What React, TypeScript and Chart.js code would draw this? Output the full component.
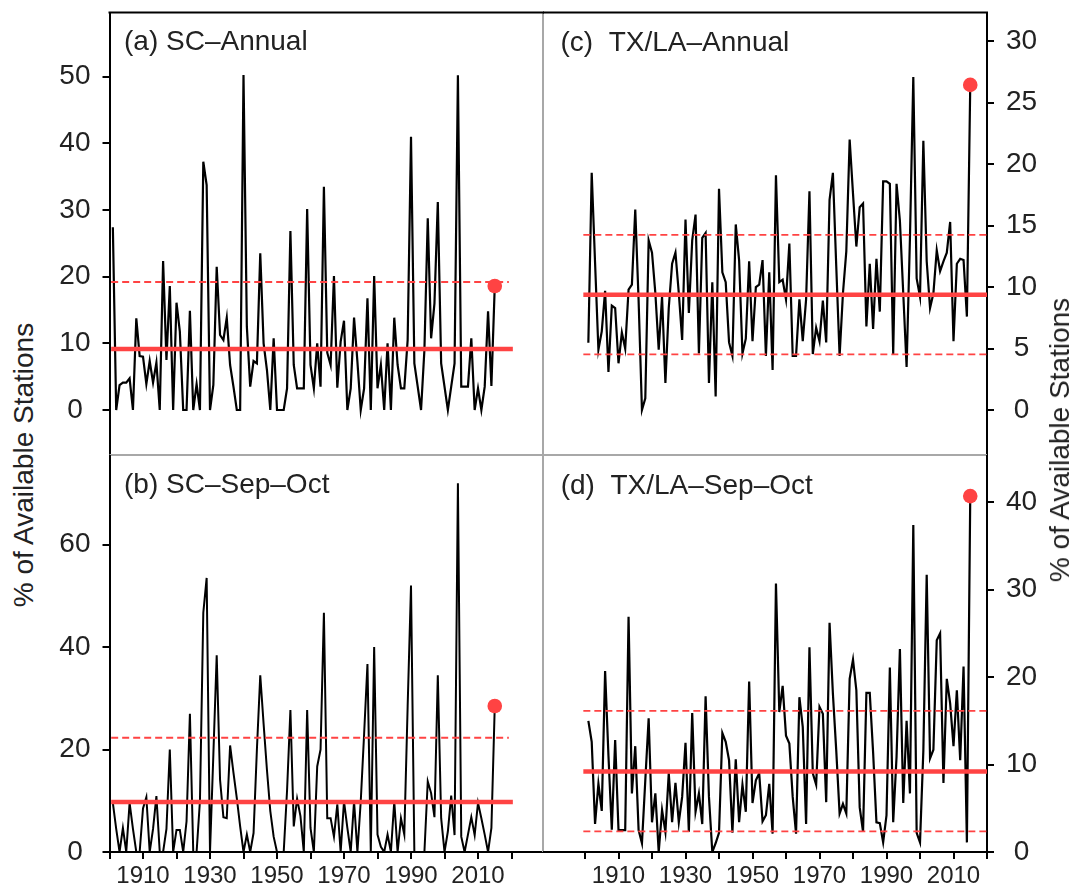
import React, { useEffect, useRef } from "react";
import { Chart, registerables } from "chart.js";

Chart.register(...registerables);

const FONT = '"Liberation Sans", Arial, Helvetica, sans-serif';
const TEXT = "#222222";
const RED = "#ff4343";
const GRAY = "#a8a8a8";

// ---------- data ----------
const startYear = 1901;

const scAnnual = [
  27.4, 0, 3.75, 4.1, 4.1, 4.75, 0, 13.75, 8.1, 8.0,
  3.9, 7.35, 4.1, 7.1, 0, 22.35, 7.5, 18.6, 0, 16.1,
  11.75, 0, 0, 14.9, 0, 3.9, 0, 37.25, 33.75, 0,
  3.75, 21.5, 11.25, 10.5, 13.85, 6.75, 3.5, 0, 0, 50.25,
  12.5, 3.5, 7.35, 7.0, 23.5, 10.0, 6, 0, 10.75, 0,
  0, 0, 3.25, 26.85, 6.75, 3.25, 3.25, 3.25, 30.15, 6.75,
  3.25, 10, 3.5, 33.5, 8.6, 6.75, 20.1, 3.35, 10.25, 13.4,
  0, 3.25, 13.85, 7.25, 0, 3.25, 16.75, 0, 20.1, 3.25,
  6.75, 0, 10, 0, 13.85, 6.75, 3.25, 3.25, 10.5, 41,
  7, 3.5, 0, 9, 28.75, 10.75, 16, 31.2, 7, 3.5,
  0, 3.5, 7, 50.2, 3.5, 3.5, 3.5, 10.75, 0, 3.25,
  0, 3.5, 14.8, 3.6, 18.6,
];

const scSepOct = [
  9.6, 4.5, 0, 4.7, 0, 9.6, 4.5, 0, 0, 8.5,
  10.7, 0, 4.5, 10.9, 0, 0, 4.5, 20, 0, 4.3,
  4.3, 0, 6, 27, 0, 0, 10, 46.7, 53.5, 0,
  19, 38.4, 14.1, 6.8, 6.6, 20.8, 15.5, 10.5, 5, 0,
  3.4, 0, 3.7, 20, 34.5, 25, 16, 8, 3, 0,
  0, 0, 12, 27.7, 5, 10.4, 7, 0, 27.7, 4.7,
  0, 16.7, 20, 46.7, 6.6, 6.6, 3, 9.3, 0, 9.9,
  4.7, 0, 9.9, 0, 9.9, 23, 36.7, 0, 40, 3.4,
  1, 0, 3.4, 0, 9.9, 0, 6.6, 3.4, 28.5, 52,
  0, 0, 0, 0, 13.8, 11.5, 6.8, 34.5, 6.6, 0,
  4, 11, 3.3, 72, 3, 0, 3.4, 6.8, 3.3, 9.6,
  6.6, 3.4, 0, 4.7, 28.5,
];

const txAnnual = [
  5.47, 19.3, 12, 4.9, 6.4, 9.7, 3.1, 8.5, 8.3, 3.8,
  6.3, 5.0, 9.8, 10.2, 16.3, 8.9, 0, 0.95, 13.8, 12.8,
  9.5, 4.9, 9.2, 2.2, 8.3, 11.9, 12.8, 9.5, 5.7, 15.5,
  7.9, 13.8, 15.9, 4.6, 14, 14.4, 2.2, 10.4, 1.1, 18,
  11.2, 10.4, 5.5, 4.4, 15.1, 12.2, 4.6, 5.8, 12.1, 5.6,
  10, 10.2, 12.2, 4.4, 11.2, 3.25, 19.1, 10.4, 10.6, 9,
  13.55, 4.4, 4.4, 9, 5.6, 9, 17.8, 4.55, 6.7, 5.6,
  8.9, 5.5, 17.1, 19.3, 11.7, 4.4, 9.5, 12.9, 22, 17.6,
  13.3, 16.5, 16.8, 6.8, 11.9, 6.6, 12.3, 8, 18.6, 18.6,
  18.4, 4.55, 18.4, 15.4, 9.5, 3.5, 14, 27.1, 10.7, 9.2,
  21.9, 12.1, 8.3, 9.5, 13, 11.3, 12.1, 12.8, 15.3, 5.6,
  11.9, 12.3, 12.2, 7.6, 26.45,
];

const txSepOct = [
  15, 12.6, 3.2, 7.8, 4.7, 20.7, 11, 2.55, 12.8, 2.5,
  2.5, 2.5, 26.9, 6.7, 12.1, 2.5, 1, 8.2, 15.3, 3.4,
  6.7, 0, 4.8, 2.3, 9, 3.4, 7.9, 3.4, 6.3, 12.5,
  2.3, 15.9, 4.6, 6.7, 3.2, 17.8, 6.3, 0, 1, 2.2,
  13.6, 12.6, 10.5, 2.2, 10.6, 3.4, 7.7, 4.6, 19.5, 5.6,
  8.2, 9, 3.5, 4.2, 7.8, 2.1, 30.7, 16, 19, 13.3,
  12.4, 6.3, 2.1, 17.7, 14.3, 3.2, 23.4, 9, 7.7, 16.6,
  15.8, 5.7, 26.2, 18.1, 11.6, 4.4, 5.5, 4.4, 19.8, 22,
  18.5, 5.1, 2.3, 18.2, 18.2, 11.4, 3.4, 3.3, 1.1, 4.2,
  21.1, 3.4, 10.9, 23.2, 5.6, 15, 6.7, 37.4, 2.2, 1.1,
  11.6, 31.7, 10.7, 11.7, 24.2, 25, 7.9, 19.8, 17, 12.1,
  18.5, 10.5, 21.2, 1.1, 40.7,
];

// reference lines: [mean, upper, lower]
const scAnnualRef = [9.15, 19.2];
const scSepOctRef = [9.77, 22.3];
const txAnnualRef = [9.37, 14.25, 4.53];
const txSepOctRef = [9.22, 16.15, 2.37];

const xTickYears = [1900, 1910, 1920, 1930, 1940, 1950, 1960, 1970, 1980, 1990, 2000, 2010, 2020];
const xTickLabels = ["1910", "1930", "1950", "1970", "1990", "2010"];
const scAnnualTicks = [0, 10, 20, 30, 40, 50];
const scSepOctTicks = [0, 20, 40, 60];
const txAnnualTicks = [0, 5, 10, 15, 20, 25, 30];
const txSepOctTicks = [0, 10, 20, 30, 40];

const panelLabels = ["(a) SC–Annual", "(b) SC–Sep–Oct", "(c)  TX/LA–Annual", "(d)  TX/LA–Sep–Oct"];
const axisTitle = "% of Available Stations";

// ---------- plugins ----------
const framePlugin = {
  id: "frame",
  afterDatasetsDraw(chart: any, _args: any, opts: any) {
    const { ctx, chartArea: a } = chart;
    ctx.save();
    for (const e of opts.edges || []) {
      ctx.strokeStyle = e.color;
      ctx.lineWidth = e.width || 2;
      ctx.beginPath();
      if (e.side === "top") { ctx.moveTo(a.left - 1, a.top); ctx.lineTo(a.right + 1, a.top); }
      if (e.side === "bottom") { ctx.moveTo(a.left, a.bottom); ctx.lineTo(a.right, a.bottom); }
      if (e.side === "right") { ctx.moveTo(a.right, a.top); ctx.lineTo(a.right, e.full ? chart.height : a.bottom); }
      if (e.side === "left") { ctx.moveTo(a.left, a.top); ctx.lineTo(a.left, e.full ? chart.height : a.bottom); }
      ctx.stroke();
    }
    ctx.restore();
  },
};

const labelPlugin = {
  id: "panelLabel",
  afterDraw(chart: any, _args: any, opts: any) {
    const { ctx } = chart;
    ctx.save();
    ctx.font = `${opts.size}px ${FONT}`;
    ctx.fillStyle = TEXT;
    ctx.textBaseline = "alphabetic";
    ctx.textAlign = "left";
    ctx.fillText(opts.text, opts.x, opts.y);
    ctx.restore();
  },
};

type Spec = {
  left: number; top: number; width: number; height: number;
  values: number[]; ref: number[];
  yMin: number; yMax: number; yTicks: number[]; side: "left" | "right";
  xMin: number; xMax: number; showX: boolean;
  yWidth: number; xHeight: number;
  padding: { top: number; right: number; bottom: number; left: number };
  edges: any[];
  label: string; labelX: number; labelY: number;
  refFrom: number; refTo: number; dashTo: number;
  lineWidth: number;
};

function zeroPad(s: any) {
  s.paddingTop = 0; s.paddingBottom = 0; s.paddingLeft = 0; s.paddingRight = 0;
}

function buildConfig(sp: Spec): any {
  const years = sp.values.map((_, i) => startYear + i);
  const series = sp.values.map((v, i) => ({ x: years[i], y: v }));
  const last = series[series.length - 1];
  const datasets: any[] = [
    {
      type: "scatter", data: [last], pointRadius: 7.3, pointBackgroundColor: RED,
      pointBorderWidth: 0, order: 0, showLine: false,
    },
    {
      type: "line", data: [{ x: sp.refFrom, y: sp.ref[0] }, { x: sp.refTo, y: sp.ref[0] }],
      borderColor: RED, borderWidth: 4.5, pointRadius: 0, order: 1,
    },
  ];
  for (let k = 1; k < sp.ref.length; k++) {
    datasets.push({
      type: "line", data: [{ x: sp.refFrom, y: sp.ref[k] }, { x: sp.dashTo, y: sp.ref[k] }],
      borderColor: RED, borderWidth: 1.8, borderDash: [7, 4], pointRadius: 0, order: 2,
    });
  }
  datasets.push({
    type: "line", data: series, borderColor: "#000", borderWidth: sp.lineWidth,
    pointRadius: 0, tension: 0, order: 3, borderJoinStyle: "miter",
  });

  return {
    type: "line",
    data: { datasets },
    plugins: [framePlugin, labelPlugin],
    options: {
      animation: false,
      responsive: false,
      maintainAspectRatio: false,
      layout: { padding: sp.padding, autoPadding: false },
      plugins: {
        legend: { display: false },
        tooltip: { enabled: false },
        frame: { edges: sp.edges },
        panelLabel: { text: sp.label, x: sp.labelX, y: sp.labelY, size: 28 },
      },
      scales: {
        x: {
          type: "linear",
          min: sp.xMin,
          max: sp.xMax,
          display: sp.showX,
          position: "bottom",
          afterBuildTicks: (s: any) => { s.ticks = xTickYears.map((v) => ({ value: v })); },
          afterFit: (s: any) => { s.height = sp.xHeight; zeroPad(s); },
          ticks: {
            autoSkip: false, maxRotation: 0, minRotation: 0, padding: 3,
            color: TEXT, font: { family: FONT, size: 24 },
            callback: (v: any) => (xTickLabels.includes(String(v)) ? String(v) : ""),
          },
          grid: { display: true, drawOnChartArea: false, drawTicks: true, tickLength: 7, color: "#000", lineWidth: 2 },
          border: { display: true, color: "#000", width: 2 },
        },
        y: {
          type: "linear",
          position: sp.side,
          min: sp.yMin,
          max: sp.yMax,
          afterBuildTicks: (s: any) => { s.ticks = sp.yTicks.map((v) => ({ value: v })); },
          afterFit: (s: any) => { s.width = sp.yWidth; zeroPad(s); },
          ticks: {
            autoSkip: false, padding: 12, crossAlign: "center",
            color: TEXT, font: { family: FONT, size: 28 },
          },
          grid: { display: true, drawOnChartArea: false, drawTicks: true, tickLength: 7, color: "#000", lineWidth: 2 },
          border: { display: true, color: "#000", width: 2 },
        },
      },
    },
  };
}

function Panel({ spec }: { spec: Spec }) {
  const ref = useRef<HTMLCanvasElement>(null);
  useEffect(() => {
    const chart = new Chart(ref.current as HTMLCanvasElement, buildConfig(spec));
    return () => chart.destroy();
  }, []);
  return (
    <canvas
      ref={ref}
      width={spec.width}
      height={spec.height}
      style={{ position: "absolute", left: spec.left, top: spec.top, width: spec.width, height: spec.height }}
    />
  );
}

const leftXMax = 2029.4;
const rightXMin = 1887.46;

const specs: Spec[] = [
  {
    left: 40, top: 0, width: 504, height: 456,
    values: scAnnual, ref: scAnnualRef,
    yMin: -6.75, yMax: 59.63, yTicks: scAnnualTicks, side: "left",
    xMin: 1900, xMax: leftXMax, showX: false, yWidth: 69.5, xHeight: 0,
    padding: { top: 12.5, right: 1, bottom: 1, left: 0 },
    edges: [
      { side: "bottom", color: GRAY },
      { side: "right", color: GRAY, full: true },
      { side: "top", color: "#000" },
    ],
    label: panelLabels[0], labelX: 84, labelY: 50,
    refFrom: 1900.5, refTo: 2020.4, dashTo: 2019.2, lineWidth: 2.2,
  },
  {
    left: 40, top: 455, width: 504, height: 436,
    values: scSepOct, ref: scSepOctRef,
    yMin: 0, yMax: 77.5, yTicks: scSepOctTicks, side: "left",
    xMin: 1900, xMax: leftXMax, showX: true, yWidth: 69.5, xHeight: 39,
    padding: { top: 0, right: 1, bottom: 0, left: 0 },
    edges: [{ side: "right", color: GRAY }],
    label: panelLabels[1], labelX: 84, labelY: 38,
    refFrom: 1900.5, refTo: 2020.4, dashTo: 2019.2, lineWidth: 2,
  },
  {
    left: 543, top: 0, width: 502, height: 456,
    values: txAnnual, ref: txAnnualRef,
    yMin: -3.66, yMax: 32.34, yTicks: txAnnualTicks, side: "right",
    xMin: rightXMin, xMax: 2020, showX: false, yWidth: 58, xHeight: 0,
    padding: { top: 12.5, right: 0, bottom: 1, left: 0 },
    edges: [
      { side: "bottom", color: GRAY },
      { side: "top", color: "#000" },
    ],
    label: panelLabels[2], labelX: 17.5, labelY: 51,
    refFrom: 1899.5, refTo: 2020.3, dashTo: 2020.3, lineWidth: 2.2,
  },
  {
    left: 543, top: 455, width: 502, height: 436,
    values: txSepOct, ref: txSepOctRef,
    yMin: 0, yMax: 45.4, yTicks: txSepOctTicks, side: "right",
    xMin: rightXMin, xMax: 2020, showX: true, yWidth: 58, xHeight: 39,
    padding: { top: 0, right: 0, bottom: 0, left: 0 },
    edges: [],
    label: panelLabels[3], labelX: 17.7, labelY: 39,
    refFrom: 1899.5, refTo: 2020.3, dashTo: 2020.3, lineWidth: 2.2,
  },
];

function AxisTitle({ cx, cy }: { cx: number; cy: number }) {
  return (
    <div
      style={{
        position: "absolute", left: cx, top: cy, transform: "translate(-50%, -50%) rotate(-90deg)",
        whiteSpace: "nowrap", fontFamily: FONT, fontSize: 28, color: TEXT, lineHeight: 1,
      }}
    >
      {axisTitle}
    </div>
  );
}

export default function App() {
  return (
    <div style={{ position: "absolute", left: 0, top: 0, width: 1075, height: 891, background: "#fff", overflow: "hidden" }}>
      {specs.map((s, i) => (
        <Panel key={i} spec={s} />
      ))}
      <AxisTitle cx={24} cy={465} />
      <AxisTitle cx={1060} cy={440} />
    </div>
  );
}
